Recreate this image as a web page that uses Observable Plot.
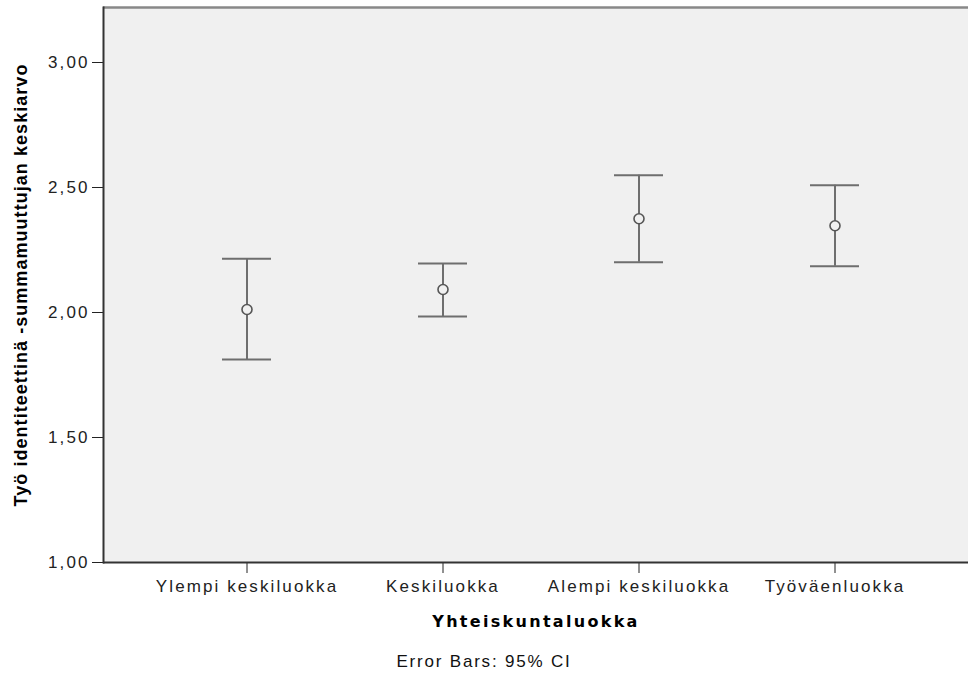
<!DOCTYPE html>
<html>
<head>
<meta charset="utf-8">
<script src="https://cdn.jsdelivr.net/npm/d3@7"></script>
<script src="https://cdn.jsdelivr.net/npm/@observablehq/plot@0.6"></script>
<style>
  html, body { margin: 0; padding: 0; background: #fff; }
  #chart svg text { letter-spacing: 2.1px; }
  #chart g[aria-label="x-axis label"] text { font-weight: bold; fill: #000; letter-spacing: 2.3px; font-family: "DejaVu Sans", sans-serif; font-size: 16px; }
  #chart g[aria-label="y-axis label"] text { font-weight: bold; fill: #000; letter-spacing: 1.05px; font-family: "Liberation Sans", Arial, sans-serif; font-size: 18px; }
  #caption { width: 968px; text-align: center; font-family: "Liberation Sans", Arial, sans-serif; font-size: 17px; letter-spacing: 1.8px; color: #111; margin-top: 12px; }
</style>
</head>
<body>
<div id="chart"></div>
<div id="caption">Error Bars: 95% CI</div>
<script>
const categories = ["Ylempi keskiluokka", "Keskiluokka", "Alempi keskiluokka", "Työväenluokka"];
const means = [2.012, 2.092, 2.375, 2.347];
const lower = [1.812, 1.984, 2.201, 2.185];
const upper = [2.215, 2.196, 2.549, 2.509];
const yTicks = [1.0, 1.5, 2.0, 2.5, 3.0];

const data = categories.map((c, i) => ({cat: c, mean: means[i], lo: lower[i], hi: upper[i]}));

const chart = Plot.plot({
  width: 968,
  height: 640,
  marginLeft: 103,
  marginRight: 0,
  marginTop: 7,
  marginBottom: 78,
  style: {fontFamily: "'Liberation Sans', Arial, sans-serif", fontSize: "17px", color: "#222", background: "#fff"},
  x: {type: "band", domain: categories, paddingInner: 0.75, paddingOuter: 0.58, align: 0.52,
      label: "Yhteiskuntaluokka", labelAnchor: "center", labelOffset: 64, tickSize: 11, tickPadding: 6},
  y: {domain: [1, 3.22], ticks: yTicks, tickFormat: d => d.toFixed(2).replace(".", ","),
      label: "Työ identiteettinä -summamuuttujan keskiarvo", labelAnchor: "center", labelOffset: 89,
      labelArrow: "none", tickSize: 11, tickPadding: 3},
  marks: [
    Plot.frame({fill: "#f0f0f0", stroke: null}),
    Plot.ruleY([3.22], {stroke: "#888", strokeWidth: 2.5}),
    Plot.ruleY([1], {stroke: "#333", strokeWidth: 2}),
    Plot.frame({anchor: "left", stroke: "#333", strokeWidth: 2}),
    Plot.ruleX(data, {x: "cat", y1: "lo", y2: "hi", stroke: "#6e6e6e", strokeWidth: 2}),
    Plot.tickY(data, {x: "cat", y: "hi", stroke: "#6e6e6e", strokeWidth: 2}),
    Plot.tickY(data, {x: "cat", y: "lo", stroke: "#6e6e6e", strokeWidth: 2}),
    Plot.dot(data, {x: "cat", y: "mean", r: 5, stroke: "#555", strokeWidth: 1.6, fill: "#f0f0f0"})
  ]
});
document.getElementById("chart").appendChild(chart);
</script>
</body>
</html>
